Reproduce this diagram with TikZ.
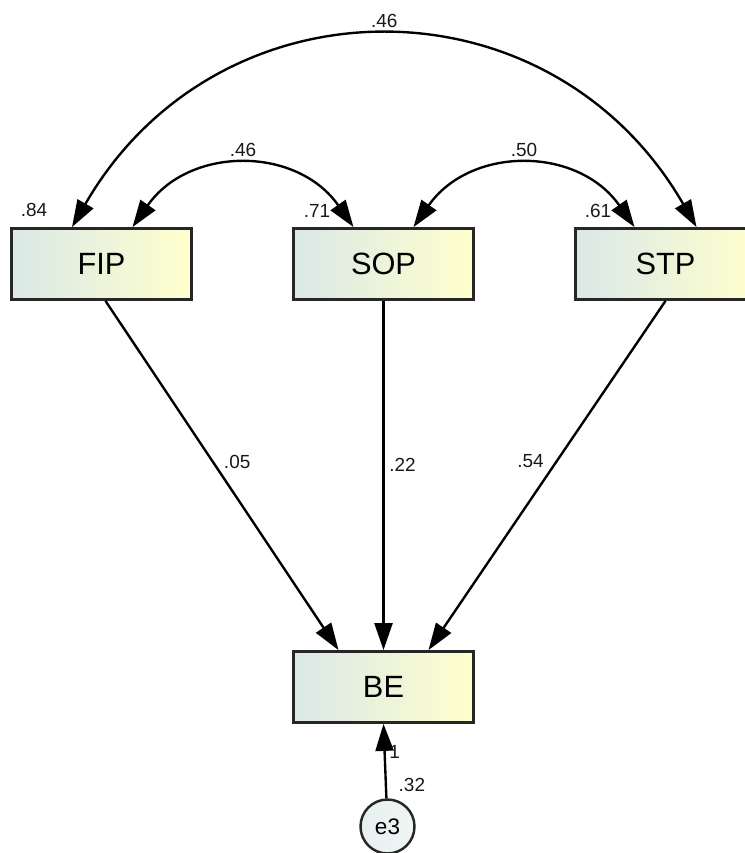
\documentclass[tikz,border=0pt]{standalone}
\usepackage{fontspec}
\setmainfont{Liberation Sans}
\usetikzlibrary{arrows.meta}

\definecolor{boxleft}{RGB}{218,232,232}
\definecolor{boxright}{RGB}{255,255,205}
\definecolor{errfill}{RGB}{230,239,239}

\tikzstyle{obsbox} = [
rectangle,
minimum width=3.6cm,
minimum height=1.42cm,
text centered,
draw=black!85,
line width=1.6pt,
left color=boxleft,
middle color=boxright!80!boxleft,
right color=boxright,
font=\fontsize{17.5}{20}\selectfont
]
\tikzstyle{errnode} = [
circle,
minimum size=1.08cm,
inner sep=0pt,
draw=black!85,
line width=1.4pt,
left color=errfill,
right color=errfill!60,
font=\fontsize{12.8}{15}\selectfont
]
\tikzstyle{coeflbl} = [
inner sep=0pt,
text=black!90,
font=\fontsize{10.8}{12}\selectfont
]
\tikzstyle{arrow} = [
line width=1.35pt,
-{Triangle[length=0.54cm,width=0.36cm]}
]
\tikzstyle{covar} = [
line width=1.35pt,
{Triangle[length=0.54cm,width=0.36cm]}-{Triangle[length=0.54cm,width=0.36cm]}
]

\begin{document}
\begin{tikzpicture}[
node distance=5.64cm
]
\useasboundingbox (0,0) rectangle (14.9,-17.06);

% Nodes
\node (fip) [obsbox] at (2.03,-5.28)
{FIP};

\node (sop) [obsbox, right of=fip]
{SOP};

\node (stp) [obsbox, right of=sop]
{STP};

\node (be) [obsbox, node distance=8.46cm, below of=sop]
{BE};

\node (e3) [errnode, node distance=2.79cm, below of=be, xshift=0.08cm]
{e3};

% Variances
\node (vfip) [coeflbl] at ([shift={(0.48cm,0.35cm)}]fip.north west) {.84};
\node (vsop) [coeflbl] at ([shift={(0.5cm,0.33cm)}]sop.north west) {.71};
\node (vstp) [coeflbl] at ([shift={(0.48cm,0.33cm)}]stp.north west) {.61};

% Covariances
\draw [covar] ([xshift=0.62cm]fip.north) to [out=55, in=125, looseness=1.15]
node [coeflbl, yshift=0.33cm] {.46} ([xshift=-0.6cm]sop.north);
\draw [covar] ([xshift=0.6cm]sop.north) to [out=55, in=125, looseness=1.15]
node [coeflbl, yshift=0.33cm] {.50} ([xshift=-0.62cm]stp.north);
\draw [covar] ([xshift=-0.59cm]fip.north) to [out=60, in=120, looseness=1.2]
node [coeflbl, yshift=0.33cm] {.46} ([xshift=0.62cm]stp.north);

% Arrows
\draw [arrow] ([xshift=0.08cm]fip.south) -- node [coeflbl, pos=0.46, xshift=0.49cm] {.05} ([xshift=-0.9cm]be.north);
\draw [arrow] (sop.south) -- node [coeflbl, pos=0.47, xshift=0.38cm] {.22} (be.north);
\draw [arrow] (stp.south) -- node [coeflbl, pos=0.46, xshift=-0.52cm] {.54} ([xshift=0.9cm]be.north);
\draw [arrow] (e3) -- node [coeflbl, pos=0.62, xshift=0.2cm] {1} node [coeflbl, pos=0.18, xshift=0.52cm] {.32} (be.south);

\end{tikzpicture}
\end{document}
